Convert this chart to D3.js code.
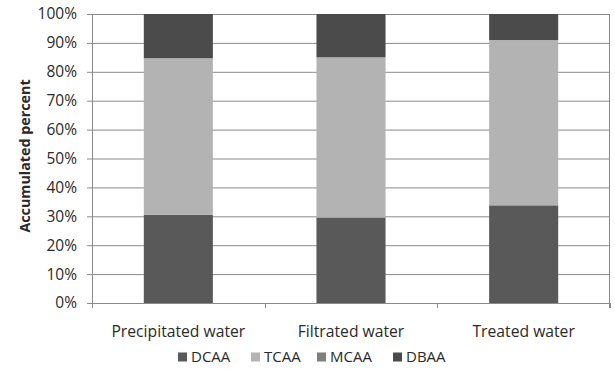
<!DOCTYPE html>
<html><head><meta charset="utf-8">
<script src="https://cdn.jsdelivr.net/npm/d3@7"></script>
<style>body{margin:0;background:#fff;} text{font-family:"Open Sans","Liberation Sans",sans-serif;fill:#2a2a2a;}</style>
</head><body>
<svg id="c" width="615" height="369"></svg>
<script>
const categories = ["Precipitated water", "Filtrated water", "Treated water"];
const seriesNames = ["DCAA", "TCAA", "MCAA", "DBAA"];
const DCAA = [30.5, 29.6, 33.8];
const TCAA = [54.2, 55.4, 57.2];
const MCAA = [0, 0, 0];
const DBAA = [15.3, 15.0, 9.0];
const yTicks = [0,10,20,30,40,50,60,70,80,90,100];
const colors = ["#595959", "#b3b3b3", "#7f7f7f", "#4b4b4b"];

const seriesVals = [DCAA, TCAA, MCAA, DBAA];
const rows = categories.map((c,i)=>{const r={cat:c}; seriesNames.forEach((s,j)=>r[s]=seriesVals[j][i]); return r;});
const stack = d3.stack().keys(seriesNames)(rows);

const svg = d3.select("#c");
const L=92, R=610, T=14, B=303;
const x = d3.scaleBand().domain(categories).range([L,R]).paddingInner(0.6).paddingOuter(0.3);
const xb = d3.scaleBand().domain(categories).range([L,R]);
const y = d3.scaleLinear().domain([0,100]).range([B,T]);

// gridlines
svg.append("g").selectAll("line").data(yTicks).join("line")
  .attr("x1",L-5).attr("x2",R).attr("y1",d=>y(d)+0.5).attr("y2",d=>y(d)+0.5)
  .attr("stroke","#8a8a8a").attr("stroke-width",1);

// y axis labels
svg.append("g").selectAll("text").data(yTicks).join("text")
  .attr("x",77).attr("y",d=>y(d)).attr("dy","0.35em").attr("text-anchor","end")
  .style("font-size","15.5px").text(d=>d+"%");

// bars
svg.append("g").selectAll("g").data(stack).join("g").attr("fill",(d,i)=>colors[i])
  .selectAll("rect").data(d=>d).join("rect")
  .attr("x",d=>x(d.data.cat)).attr("width",x.bandwidth())
  .attr("y",d=>y(d[1])).attr("height",d=>y(d[0])-y(d[1]));

// axes lines
svg.append("line").attr("x1",L+0.5).attr("x2",L+0.5).attr("y1",T).attr("y2",B).attr("stroke","#8a8a8a");
svg.append("line").attr("x1",R-0.5).attr("x2",R-0.5).attr("y1",T).attr("y2",B+5).attr("stroke","#8a8a8a");
svg.append("line").attr("x1",L).attr("x2",R).attr("y1",B+0.5).attr("y2",B+0.5).attr("stroke","#8a8a8a");
const bounds = categories.map(c=>xb(c)).concat([R]);
svg.append("g").selectAll("line").data(bounds).join("line")
  .attr("x1",d=>Math.round(d)+0.5).attr("x2",d=>Math.round(d)+0.5).attr("y1",B).attr("y2",B+5).attr("stroke","#8a8a8a");

// category labels
svg.append("g").selectAll("text").data(categories).join("text")
  .attr("x",d=>xb(d)+xb.bandwidth()/2).attr("y",337).attr("text-anchor","middle")
  .style("font-size","15.7px").text(d=>d);

// y title
svg.append("text").attr("transform","translate(30,156) rotate(-90)").attr("text-anchor","middle")
  .style("font-size","14.3px").style("font-weight","bold").text("Accumulated percent");

// legend
const legX = [178, 251, 317, 393];
const lg = svg.append("g").selectAll("g").data(seriesNames).join("g")
  .attr("transform",(d,i)=>`translate(${legX[i]},357)`);
lg.append("rect").attr("x",0).attr("y",-4.5).attr("width",9).attr("height",9).attr("fill",(d,i)=>colors[i]);
lg.append("text").attr("x",13).attr("y",0).attr("dy","0.36em").style("font-size","15px").text(d=>d);
</script>
</body></html>
